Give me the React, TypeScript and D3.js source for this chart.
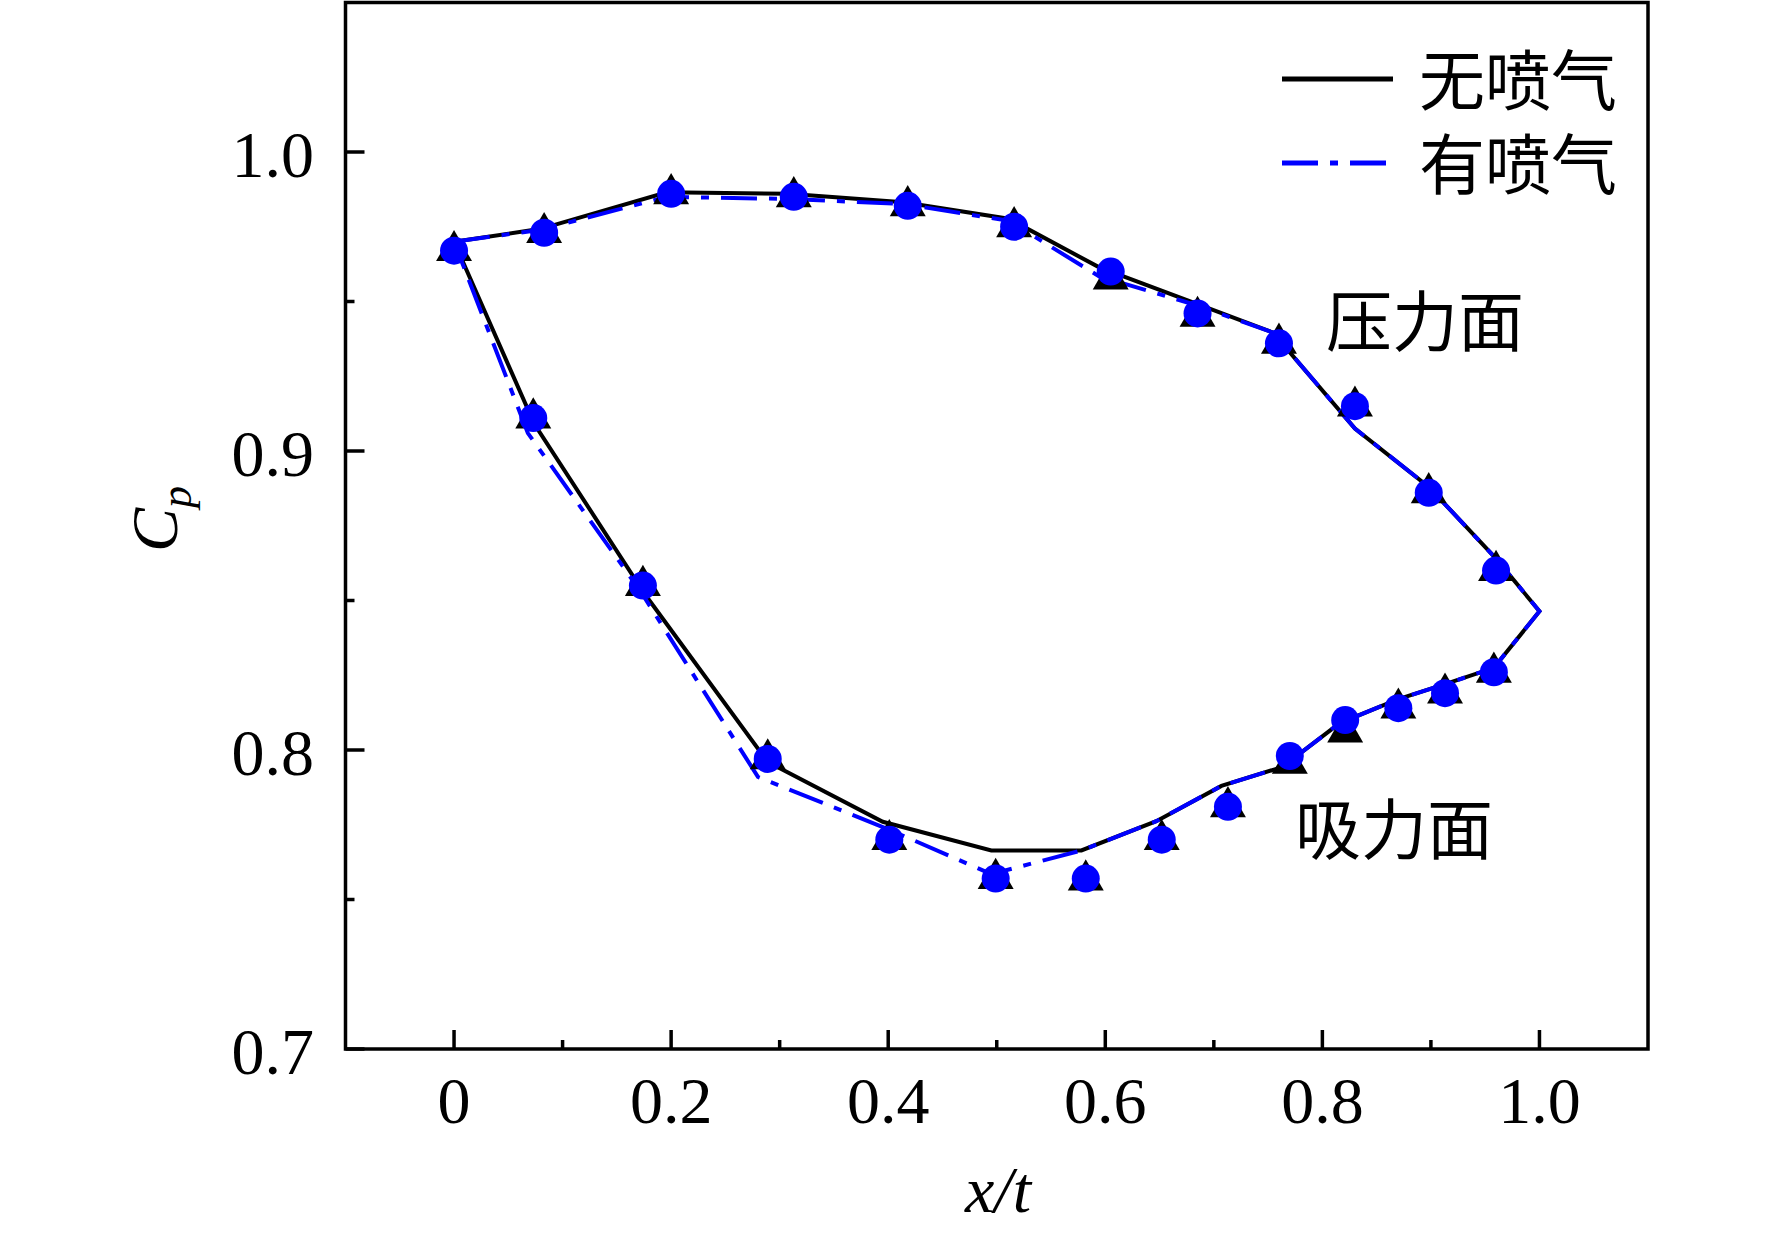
import React from 'react';
import * as d3 from 'd3';

// line vertices, pressure side (LE -> TE) then suction side (TE -> LE)
const noJetLineX = [0, 0.08, 0.196, 0.308, 0.414, 0.511, 0.594, 0.682, 0.7545, 0.83, 0.898, 0.96, 1.0,
  0.958, 0.913, 0.87, 0.816, 0.763, 0.707, 0.647, 0.578, 0.495, 0.395, 0.289, 0.176, 0.074, 0];
const noJetLineY = [0.97, 0.9743, 0.9865, 0.986, 0.9832, 0.9777, 0.9615, 0.9495, 0.9396, 0.9075, 0.888, 0.864, 0.8464,
  0.8275, 0.822, 0.817, 0.809, 0.7943, 0.788, 0.7762, 0.7664, 0.7664, 0.776, 0.796, 0.852, 0.909, 0.97];

const jetLineX = [0, 0.08, 0.196, 0.308, 0.414, 0.511, 0.594, 0.682, 0.7545, 0.83, 0.898, 0.96, 1.0,
  0.958, 0.913, 0.87, 0.816, 0.763, 0.707, 0.647, 0.578, 0.495, 0.4, 0.28, 0.172, 0.068, 0];
const jetLineY = [0.97, 0.974, 0.985, 0.9843, 0.9826, 0.977, 0.9585, 0.949, 0.9396, 0.9075, 0.888, 0.864, 0.8464,
  0.8275, 0.822, 0.817, 0.809, 0.7943, 0.788, 0.7762, 0.7664, 0.7585, 0.7735, 0.791, 0.853, 0.906, 0.97];

// measured points
const pointX = [0, 0.083, 0.2, 0.313, 0.418, 0.516, 0.605, 0.685, 0.76, 0.83, 0.898, 0.96,
  0.073, 0.174, 0.289, 0.401, 0.499, 0.582, 0.652, 0.713, 0.77, 0.821, 0.87, 0.913, 0.958];
const noJetPointY = [0.967, 0.973, 0.986, 0.985, 0.982, 0.975, 0.9575, 0.945, 0.936, 0.915, 0.886, 0.86,
  0.911, 0.855, 0.797, 0.77, 0.757, 0.7565, 0.77, 0.781, 0.7955, 0.806, 0.814, 0.819, 0.826];
const jetPointY = [0.967, 0.973, 0.986, 0.985, 0.982, 0.975, 0.96, 0.946, 0.936, 0.915, 0.886, 0.86,
  0.911, 0.855, 0.797, 0.77, 0.757, 0.757, 0.77, 0.781, 0.798, 0.81, 0.814, 0.819, 0.826];

const xMajor = [0, 0.2, 0.4, 0.6, 0.8, 1.0];
const xMinor = [0.1, 0.3, 0.5, 0.7, 0.9];
const xLabels = ['0', '0.2', '0.4', '0.6', '0.8', '1.0'];
const yMajor = [0.7, 0.8, 0.9, 1.0];
const yMinor = [0.75, 0.85, 0.95];
const yLabels = ['0.7', '0.8', '0.9', '1.0'];

const seriesNames = ['无喷气', '有喷气'];

const W = 1772;
const H = 1233;
const serif = '"Liberation Serif", "Times New Roman", serif';
const cjk = '"Noto Sans CJK SC", sans-serif';

const App: React.FC = () => {
  const x = d3.scaleLinear().domain([-0.1, 1.1]).range([345.5, 1648]);
  const y = d3.scaleLinear().domain([0.7, 1.05]).range([1049, 2.5]);

  const line = d3.line<[number, number]>().x(d => x(d[0])).y(d => y(d[1]));
  const noJetPath = line(noJetLineX.map((v, i) => [v, noJetLineY[i]]) as [number, number][]) || '';
  const jetPath = line(jetLineX.map((v, i) => [v, jetLineY[i]]) as [number, number][]) || '';
  const tri = d3.symbol().type(d3.symbolTriangle).size(560)() || '';

  const [x0, x1] = x.range();
  const [y0, y1] = y.range();
  const axisW = 3.5;
  const dash = '36 12 8 12';

  return (
    <svg width={W} height={H} style={{ position: 'absolute', left: 0, top: 0, background: '#fff' }}>
      <rect x={0} y={0} width={W} height={H} fill="#fff" />

      {/* data lines */}
      <path d={noJetPath} fill="none" stroke="#000" strokeWidth={4} strokeLinejoin="miter" />
      <path d={jetPath} fill="none" stroke="#0000ff" strokeWidth={4} strokeDasharray={dash} />

      {/* markers */}
      {pointX.map((v, i) => (
        <path key={`t${i}`} d={tri} transform={`translate(${x(v)},${y(noJetPointY[i])})`} fill="#000" />
      ))}
      {pointX.map((v, i) => (
        <circle key={`c${i}`} cx={x(v)} cy={y(jetPointY[i])} r={14} fill="#0000ff" />
      ))}

      {/* frame */}
      <rect x={x0} y={y1} width={x1 - x0} height={y0 - y1} fill="none" stroke="#000" strokeWidth={axisW} />

      {/* x ticks */}
      {xMajor.map((v, i) => (
        <g key={`xm${i}`}>
          <line x1={x(v)} x2={x(v)} y1={y0} y2={y0 - 19} stroke="#000" strokeWidth={axisW} />
          <text x={x(v)} y={1123} textAnchor="middle" fontFamily={serif} fontSize={66}>{xLabels[i]}</text>
        </g>
      ))}
      {xMinor.map((v, i) => (
        <line key={`xn${i}`} x1={x(v)} x2={x(v)} y1={y0} y2={y0 - 9} stroke="#000" strokeWidth={axisW} />
      ))}

      {/* y ticks */}
      {yMajor.map((v, i) => (
        <g key={`ym${i}`}>
          <line x1={x0} x2={x0 + 19} y1={y(v)} y2={y(v)} stroke="#000" strokeWidth={axisW} />
          <text x={314} y={y(v) + 25} textAnchor="end" fontFamily={serif} fontSize={66}>{yLabels[i]}</text>
        </g>
      ))}
      {yMinor.map((v, i) => (
        <line key={`yn${i}`} x1={x0} x2={x0 + 9} y1={y(v)} y2={y(v)} stroke="#000" strokeWidth={axisW} />
      ))}

      {/* axis titles */}
      <text x={998} y={1212} textAnchor="middle" fontFamily={serif} fontSize={66} fontStyle="italic">x/t</text>
      <text transform="translate(177,519) rotate(-90)" textAnchor="middle" fontFamily={serif} fontStyle="italic">
        <tspan fontSize={66}>C</tspan>
        <tspan fontSize={44} dy={14}>p</tspan>
      </text>

      {/* legend */}
      <line x1={1282} x2={1393} y1={79} y2={79} stroke="#000" strokeWidth={5} />
      <text x={1419} y={76} dominantBaseline="central" fontFamily={cjk} fontSize={66}>{seriesNames[0]}</text>
      <line x1={1282} x2={1393} y1={163} y2={163} stroke="#0000ff" strokeWidth={5} strokeDasharray={dash} />
      <text x={1419} y={160} dominantBaseline="central" fontFamily={cjk} fontSize={66}>{seriesNames[1]}</text>

      {/* annotations */}
      <text x={1326} y={317} dominantBaseline="central" fontFamily={cjk} fontSize={66}>压力面</text>
      <text x={1295} y={825} dominantBaseline="central" fontFamily={cjk} fontSize={66}>吸力面</text>
    </svg>
  );
};

export default App;
